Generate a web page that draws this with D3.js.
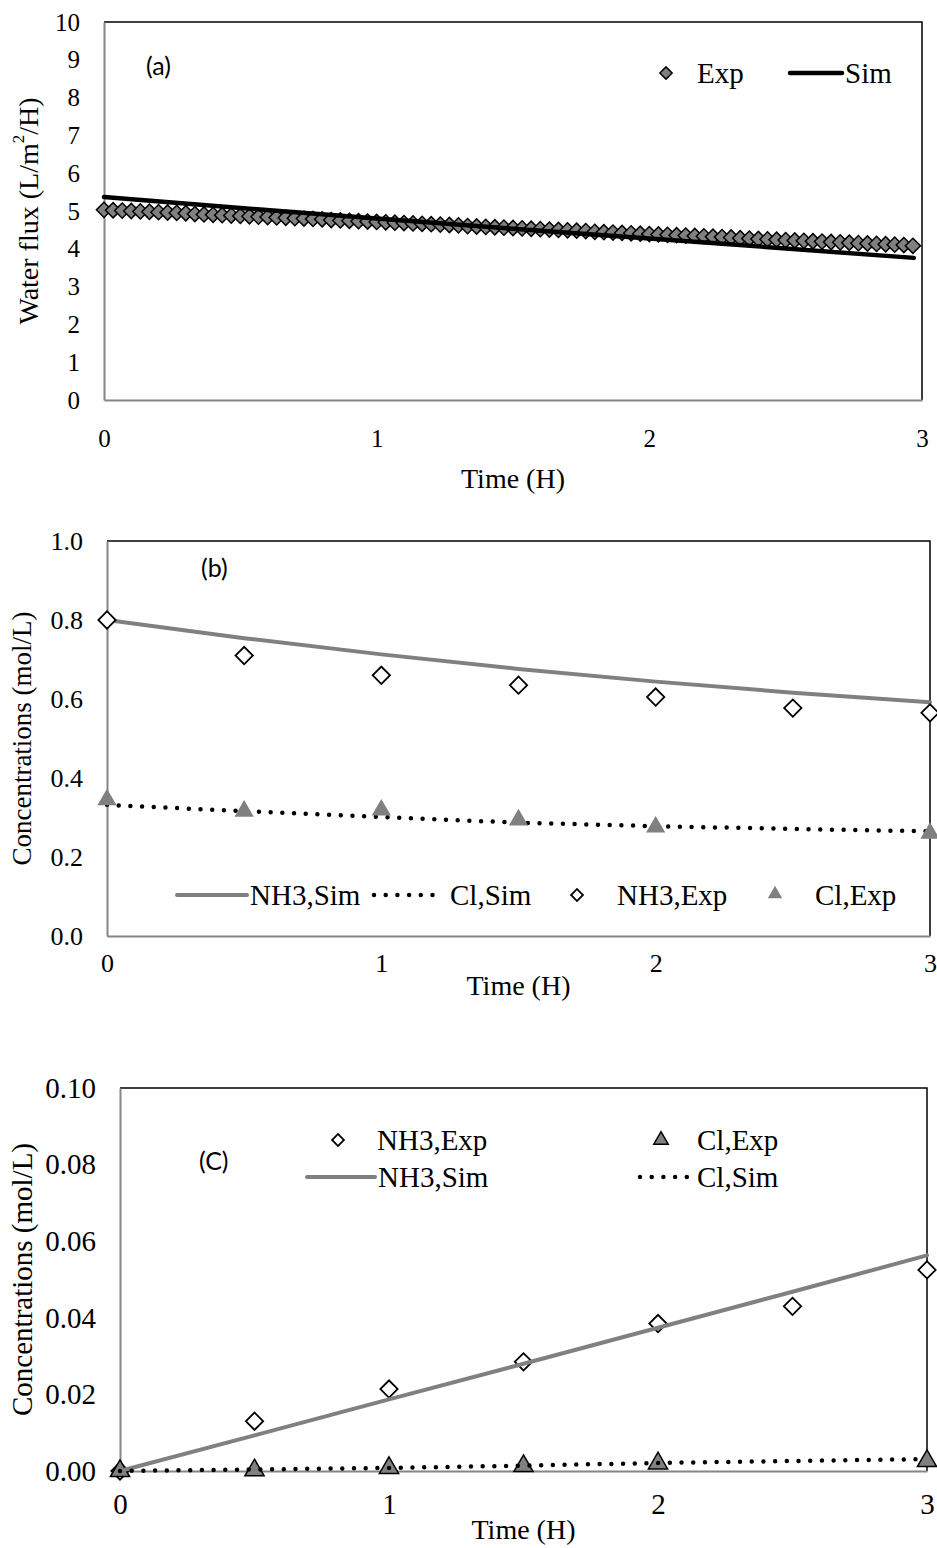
<!DOCTYPE html>
<html>
<head>
<meta charset="utf-8">
<script src="https://cdn.jsdelivr.net/npm/d3@7"></script>
<style>
  body { margin: 0; background: #fff; }
  svg text { fill: #000; }
</style>
</head>
<body>
<svg id="chart" width="937" height="1548"></svg>
<script>
// ---- panel (a): water flux ----
const fluxTimeMin = [0, 2, 4, 6, 8, 10, 12, 14, 16, 18, 20, 22, 24, 26, 28, 30, 32, 34, 36, 38,
  40, 42, 44, 46, 48, 50, 52, 54, 56, 58, 60, 62, 64, 66, 68, 70, 72, 74, 76, 78,
  80, 82, 84, 86, 88, 90, 92, 94, 96, 98, 100, 102, 104, 106, 108, 110, 112, 114, 116, 118,
  120, 122, 124, 126, 128, 130, 132, 134, 136, 138, 140, 142, 144, 146, 148, 150, 152, 154, 156, 158,
  160, 162, 164, 166, 168, 170, 172, 174, 176, 178];
const fluxExp = [5.03, 5.02, 5.01, 5.00, 4.99, 4.98, 4.97, 4.96, 4.95, 4.94,
  4.92, 4.91, 4.90, 4.89, 4.88, 4.87, 4.86, 4.85, 4.84, 4.83,
  4.82, 4.81, 4.80, 4.79, 4.78, 4.76, 4.75, 4.74, 4.73, 4.72,
  4.71, 4.70, 4.69, 4.68, 4.67, 4.66, 4.65, 4.64, 4.63, 4.62,
  4.60, 4.59, 4.58, 4.57, 4.56, 4.55, 4.54, 4.53, 4.52, 4.51,
  4.50, 4.49, 4.48, 4.47, 4.45, 4.44, 4.43, 4.42, 4.41, 4.40,
  4.39, 4.38, 4.37, 4.36, 4.35, 4.34, 4.33, 4.32, 4.31, 4.30,
  4.28, 4.27, 4.26, 4.25, 4.24, 4.23, 4.22, 4.21, 4.20, 4.19,
  4.18, 4.17, 4.16, 4.15, 4.14, 4.13, 4.12, 4.11, 4.10, 4.08];
const fluxSimTime = [0, 0.5, 1, 1.5, 2, 2.5, 2.97];
const fluxSim = [5.37, 5.08, 4.80, 4.53, 4.27, 4.01, 3.76];
const fluxTicks = [0, 1, 2, 3, 4, 5, 6, 7, 8, 9, 10];

// ---- panel (b): feed side concentrations ----
const bTime = [0, 0.5, 1, 1.5, 2, 2.5, 3];
const bNh3Sim = [0.800, 0.754, 0.713, 0.676, 0.644, 0.616, 0.592];
const bClSim = [0.332, 0.316, 0.301, 0.287, 0.278, 0.271, 0.265];
const bNh3Exp = [0.80, 0.71, 0.66, 0.635, 0.605, 0.577, 0.565];
const bClTime = [0, 0.5, 1, 1.5, 2, 3];
const bClExp = [0.345, 0.316, 0.319, 0.294, 0.276, 0.26];
const bTicks = [0, 0.2, 0.4, 0.6, 0.8, 1.0];

// ---- panel (c): draw side concentrations ----
const cTime = [0, 0.5, 1, 1.5, 2, 2.5, 3];
const cNh3Exp = [0, 0.013, 0.0214, 0.0285, 0.0385, 0.043, 0.0525];
const cClTime = [0, 0.5, 1, 1.5, 2, 3];
const cClExp = [0, 0.0002, 0.0008, 0.0013, 0.002, 0.0026];
const cNh3Sim = [0, 0.0093, 0.0187, 0.028, 0.0374, 0.0468, 0.0563];
const cClSim = [0, 0.0004, 0.0008, 0.0014, 0.0021, 0.0026, 0.0031];
const cTicks = [0, 0.02, 0.04, 0.06, 0.08, 0.10];

const timeTicks = [0, 1, 2, 3];

const SERIF = "'Liberation Serif', 'Times New Roman', serif";
const SANS = "Lato, 'Open Sans', sans-serif";
const GRAY = '#808080';
const AXIS_GRAY = '#868686';

const svg = d3.select('#chart');

const triangle = s => d3.symbol(d3.symbolTriangle, s);
// excel style diamond = square turned 45deg
function mkDiamond(size) { const s = d3.symbol(d3.symbolSquare, size); s.isDiamond = true; return s; }

function frame(g, x, y, opt) {
  const [x0, x1] = x.range();
  const [yb, yt] = y.range();
  // plot area border (top/right black)
  g.append('path')
    .attr('d', `M${x0},${yt}H${x1}V${yb}`)
    .attr('fill', 'none').attr('stroke', '#000').attr('stroke-width', 1.5);

  const ya = g.append('g')
    .attr('transform', `translate(${x0},0)`)
    .call(d3.axisLeft(y).tickValues(opt.yTicks).tickFormat(opt.yFmt).tickSize(0).tickSizeOuter(0).tickPadding(24));
  const xa = g.append('g')
    .attr('transform', `translate(0,${yb})`)
    .call(d3.axisBottom(x).tickValues(timeTicks).tickFormat(d3.format('d')).tickSize(0).tickSizeOuter(0));
  xa.selectAll('text').attr('y', opt.xLabelDy).attr('dy', '0.35em');
  [ya, xa].forEach(a => {
    a.selectAll('text')
      .style('font-family', SERIF)
      .style('font-size', opt.tickSize + 'px')
      .style('fill', '#000');
    a.select('.domain').attr('stroke', AXIS_GRAY).attr('stroke-width', 2);
  });

  g.append('text')
    .attr('x', (x0 + x1) / 2).attr('y', yb + opt.titleDy).attr('dy', '0.35em')
    .attr('text-anchor', 'middle')
    .style('font-family', SERIF).style('font-size', '28px')
    .text('Time (H)');
  g.append('text')
    .attr('transform', `translate(${opt.yTitleX},${(yb + yt) / 2}) rotate(-90)`)
    .attr('text-anchor', 'middle').attr('dominant-baseline', 'central')
    .style('font-family', SERIF).style('font-size', opt.yTitleSize + 'px')
    .call(opt.yTitle);
  g.append('text')
    .attr('x', opt.tag[0]).attr('y', opt.tag[1])
    .style('font-family', SANS).style('font-size', '25px')
    .text(opt.tag[2]);
}

function simLine(g, x, y, xs, ys, style) {
  const line = d3.line().x(d => x(d[0])).y(d => y(d[1]));
  const p = g.append('path')
    .datum(d3.zip(xs, ys))
    .attr('d', line)
    .attr('fill', 'none');
  style(p);
}

function points(g, x, y, xs, ys, sym, style) {
  const s = g.append('g').selectAll('path')
    .data(d3.zip(xs, ys)).join('path')
    .attr('d', sym)
    .attr('transform', d => `translate(${x(d[0])},${y(d[1])})` + (sym.isDiamond ? ' rotate(45)' : ''));
  style(s);
}

const solidBlack = p => p.attr('stroke', '#000').attr('stroke-width', 4.5).attr('stroke-linecap', 'round');
const solidGray = p => p.attr('stroke', GRAY).attr('stroke-width', 4).attr('stroke-linecap', 'round');
const dotted = p => p.attr('stroke', '#000').attr('stroke-width', 4.5)
  .attr('stroke-linecap', 'round').attr('stroke-dasharray', '0 11.7');

function legendText(g, x, y, txt) {
  g.append('text').attr('x', x).attr('y', y).attr('dy', '0.35em')
    .style('font-family', SERIF).style('font-size', '29px').text(txt);
}
function legendLine(g, x1, x2, y, style) {
  const p = g.append('path').attr('d', `M${x1},${y}H${x2}`).attr('fill', 'none');
  style(p);
}
function legendSym(g, x, y, sym, style) {
  const s = g.append('path').attr('d', sym)
    .attr('transform', `translate(${x},${y})` + (sym.isDiamond ? ' rotate(45)' : ''));
  style(s);
}

const grayDiamond = s => s.attr('fill', GRAY).attr('stroke', '#000').attr('stroke-width', 1.5);
const openDiamond = s => s.attr('fill', '#fff').attr('stroke', '#000').attr('stroke-width', 1.8);
const grayTri = s => s.attr('fill', GRAY);
const grayTriStroke = s => s.attr('fill', GRAY).attr('stroke', '#000').attr('stroke-width', 1.5);

// ---------- (a) ----------
{
  const g = svg.append('g');
  const x = d3.scaleLinear().domain([0, 3]).range([104, 922]);
  const y = d3.scaleLinear().domain([0, 10]).range([400, 22]);
  frame(g, x, y, {
    yTicks: fluxTicks, yFmt: d3.format('d'), tickSize: 25, xLabelDy: 38, titleDy: 78,
    yTitleX: 28, yTitleSize: 28,
    yTitle: t => { t.append('tspan').text('Water flux (L/m'); t.append('tspan').style('font-size', '17px').attr('dy', -10).text('2'); t.append('tspan').attr('dy', 10).text('/H)'); },
    tag: [146, 75, '(a)']
  });
  points(g, x, y, fluxTimeMin.map(m => m / 60), fluxExp, mkDiamond(115), grayDiamond);
  simLine(g, x, y, fluxSimTime, fluxSim, solidBlack);
  legendSym(g, 666, 73, mkDiamond(75), grayDiamond);
  legendText(g, 697, 73, 'Exp');
  legendLine(g, 790, 842, 73, solidBlack);
  legendText(g, 845, 73, 'Sim');
}

// ---------- (b) ----------
{
  const g = svg.append('g');
  const x = d3.scaleLinear().domain([0, 3]).range([107, 930]);
  const y = d3.scaleLinear().domain([0, 1]).range([936, 541]);
  frame(g, x, y, {
    yTicks: bTicks, yFmt: d3.format('.1f'), tickSize: 26, xLabelDy: 27, titleDy: 49,
    yTitleX: 22, yTitleSize: 27,
    yTitle: t => t.text('Concentrations (mol/L)'),
    tag: [201, 577, '(b)']
  });
  simLine(g, x, y, bTime, bNh3Sim, solidGray);
  simLine(g, x, y, bTime, bClSim, dotted);
  points(g, x, y, bTime, bNh3Exp, mkDiamond(150), openDiamond);
  points(g, x, y, bClTime, bClExp, triangle(160), grayTri);

  legendLine(g, 177, 247, 895, solidGray);
  legendText(g, 250, 895, 'NH3,Sim');
  legendLine(g, 374, 436, 895, dotted);
  legendText(g, 450, 895, 'Cl,Sim');
  legendSym(g, 577, 895, mkDiamond(70), openDiamond);
  legendText(g, 617, 895, 'NH3,Exp');
  legendSym(g, 775, 894, triangle(90), grayTri);
  legendText(g, 815, 895, 'Cl,Exp');
}

// ---------- (c) ----------
{
  const g = svg.append('g');
  const x = d3.scaleLinear().domain([0, 3]).range([120, 927]);
  const y = d3.scaleLinear().domain([0, 0.1]).range([1471, 1088]);
  frame(g, x, y, {
    yTicks: cTicks, yFmt: d3.format('.2f'), tickSize: 29, xLabelDy: 33, titleDy: 58,
    yTitleX: 22, yTitleSize: 29,
    yTitle: t => t.text('Concentrations (mol/L)'),
    tag: [199, 1170, '(C)']
  });
  points(g, x, y, cTime, cNh3Exp, mkDiamond(150), openDiamond);
  points(g, x, y, cClTime, cClExp, triangle(160), grayTriStroke);
  simLine(g, x, y, cTime, cNh3Sim, solidGray);
  simLine(g, x, y, cTime, cClSim, dotted);

  legendSym(g, 338, 1140, mkDiamond(70), openDiamond);
  legendText(g, 377, 1140, 'NH3,Exp');
  legendSym(g, 661, 1140, triangle(90), grayTriStroke);
  legendText(g, 697, 1140, 'Cl,Exp');
  legendLine(g, 307, 375, 1177, solidGray);
  legendText(g, 378, 1177, 'NH3,Sim');
  legendLine(g, 640, 694, 1177, dotted);
  legendText(g, 697, 1177, 'Cl,Sim');
}
</script>
</body>
</html>
